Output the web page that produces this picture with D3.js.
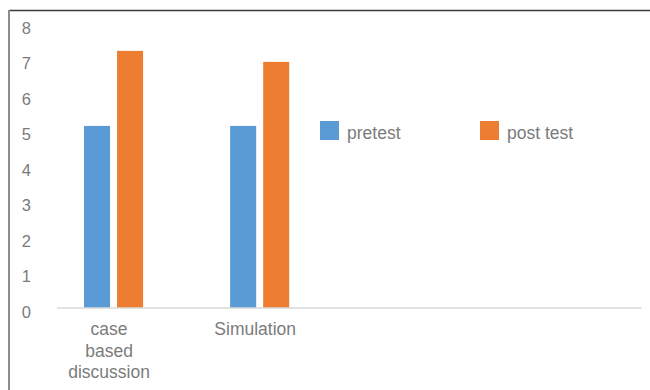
<!DOCTYPE html>
<html>
<head>
<meta charset="utf-8">
<script src="https://cdn.jsdelivr.net/npm/d3@7"></script>
<style>
  html, body { margin: 0; padding: 0; background: #fff; }
  svg { display: block; font-family: "Liberation Sans", Arial, sans-serif; }
</style>
</head>
<body>
<svg id="chart" width="650" height="390"></svg>
<script>
// ---- data ----
const categories = ["case based discussion", "Simulation"];
const emptySlots = ["_slot3", "_slot4"];           // unused category slots on the axis
const seriesNames = ["pretest", "post test"];
const pretest = [5.12, 5.12];
const posttest = [7.23, 6.92];
const yTicks = [0, 1, 2, 3, 4, 5, 6, 7, 8];
const colors = ["#5B9BD5", "#ED7D31"];

// ---- layout ----
const svg = d3.select("#chart");
const plot = { left: 57, right: 641.5, top: 23.5, bottom: 308 };

const x0 = d3.scaleBand()
  .domain([...categories, ...emptySlots])
  .range([plot.left, plot.right])
  .padding(0);

const x1 = d3.scaleBand()
  .domain([...seriesNames, "_blank"])
  .range([0, x0.bandwidth()])
  .paddingInner(0.212)
  .paddingOuter(0.818);

const y = d3.scaleLinear().domain([0, 8]).range([plot.bottom, plot.top]);

// frame
svg.append("line").attr("x1", 9).attr("x2", 650).attr("y1", 10.5).attr("y2", 10.5)
  .attr("stroke", "#3a3a3a").attr("stroke-width", 1.6);
svg.append("line").attr("x1", 9).attr("x2", 9).attr("y1", 10).attr("y2", 390)
  .attr("stroke", "#8c8c8c").attr("stroke-width", 2);

// bars
const seriesData = [pretest, posttest];
categories.forEach((c, ci) => {
  seriesNames.forEach((s, si) => {
    const v = seriesData[si][ci];
    svg.append("rect")
      .attr("x", x0(c) + x1(s))
      .attr("y", y(v))
      .attr("width", x1.bandwidth())
      .attr("height", y(0) - y(v))
      .attr("fill", colors[si]);
  });
});

// baseline
svg.append("line").attr("x1", plot.left).attr("x2", plot.right)
  .attr("y1", y(0)).attr("y2", y(0))
  .attr("stroke", "#d9d9d9").attr("stroke-width", 1.5);

// y tick labels
svg.append("g").selectAll("text").data(yTicks).join("text")
  .attr("x", 31)
  .attr("y", d => y(d) + 10)
  .attr("text-anchor", "end")
  .attr("font-size", 16.5)
  .attr("fill", "#7b7b7b")
  .text(d => d);

// category labels
categories.forEach(c => {
  const words = c.split(" ");
  const cx = x0(c) + x0.bandwidth() / 2 - 21;
  const t = svg.append("text")
    .attr("text-anchor", "middle")
    .attr("font-size", 17.5)
    .attr("fill", "#7b7b7b");
  words.forEach((w, i) => {
    t.append("tspan").attr("x", cx).attr("y", 335 + i * 21.5).text(w);
  });
});

// legend
const legendX = [320, 480];
seriesNames.forEach((s, i) => {
  svg.append("rect").attr("x", legendX[i]).attr("y", 121)
    .attr("width", 19).attr("height", 19).attr("fill", colors[i]);
  svg.append("text").attr("x", legendX[i] + 27).attr("y", 139)
    .attr("font-size", 17.5).attr("fill", "#7b7b7b").text(s);
});
</script>
</body>
</html>
